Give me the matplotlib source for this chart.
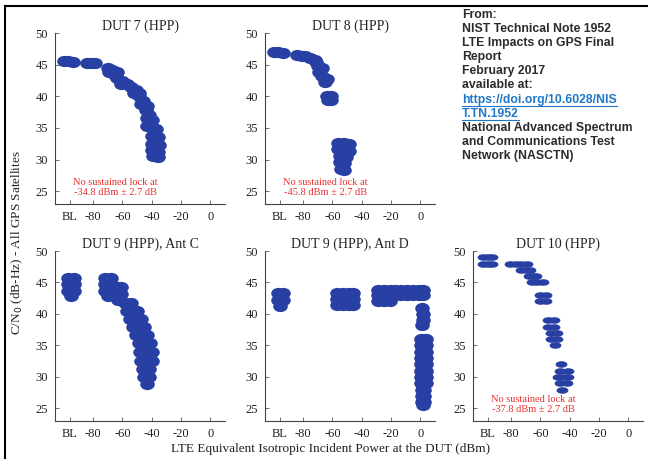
import matplotlib
matplotlib.use("Agg")
import matplotlib.pyplot as plt
from matplotlib.lines import Line2D
from matplotlib.path import Path
from matplotlib.transforms import Affine2D

W, H = 648, 459
BLUE = "#283fa3"
RED = "#e8302e"
SERIF = "Liberation Serif"

# power levels: "BL" (baseline, no LTE) is plotted at -96
BL = -96
x_ticks = [BL, -80, -60, -40, -20, 0]
x_ticklabels = ["BL", "-80", "-60", "-40", "-20", "0"]
y_ticks = [25, 30, 35, 40, 45, 50]

# DUT 7 (HPP)
dut7_x = [-100, -97, -93.5, -84, -81.5, -79, -70, -67, -64, -69, -66,
          -64, -60, -57, -61, -54, -51, -49, -52, -49, -46, -43, -47,
          -44, -42, -40, -43, -43, -40, -37, -40, -36, -40, -35, -40,
          -36, -39, -36]
dut7_y = [45.6, 45.6, 45.5, 45.3, 45.2, 45.2, 44.4, 44.1, 43.8, 43.8, 43.5,
          42.9, 42.5, 42.0, 42.0, 41.5, 41.0, 40.5, 40.6, 40.0, 39.3, 38.5, 38.8,
          37.8, 37.0, 36.2, 36.6, 35.3, 35.0, 34.8, 33.8, 33.5, 32.5, 32.3, 31.5,
          31.2, 30.6, 30.4]

# DUT 8 (HPP)
dut8_x = [-100, -97, -94, -84, -81, -79, -75, -72, -71, -70, -67, -69,
          -67, -64, -65, -64, -61, -63, -61,
          -56, -52, -49, -56, -52, -49, -55, -51, -55, -52, -54, -52]
dut8_y = [47.0, 47.0, 46.9, 46.6, 46.4, 46.3, 46.0, 45.7, 45.4, 44.8, 44.4, 43.9,
          43.2, 42.8, 42.3, 40.1, 40.0, 39.4, 39.4,
          32.6, 32.7, 32.4, 31.7, 31.6, 31.3, 30.6, 30.4, 29.6, 29.4, 28.5, 28.4]

# DUT 9 (HPP), Ant C
dut9c_x = [-97, -93, -97, -93, -97, -93, -95,
           -72, -68, -72, -68, -72, -68, -70,
           -66, -61, -66, -61, -63,
           -58, -54, -57, -53, -50, -55, -51, -47, -53, -49, -45,
           -51, -47, -43, -49, -45, -41, -48, -44, -40, -47, -43, -40,
           -46, -42, -45, -42, -43]
dut9c_y = [45.7, 45.7, 44.7, 44.7, 43.7, 43.7, 42.8,
           45.7, 45.7, 44.7, 44.7, 43.7, 43.6, 42.8,
           44.4, 44.3, 43.3, 43.2, 42.2,
           41.8, 41.8, 40.5, 40.5, 40.5, 39.2, 39.2, 39.2, 38.0, 38.0, 38.0,
           36.7, 36.7, 36.7, 35.4, 35.4, 35.4, 34.0, 34.0, 34.0, 32.6, 32.6, 32.6,
           31.2, 31.2, 30.0, 30.0, 28.8]

# DUT 9 (HPP), Ant D
dut9d_x = [-97, -94, -97, -94, -96,
           -57, -53, -49, -46, -57, -53, -49, -46, -57, -53, -49, -46,
           -29, -25, -21, -17, -13, -9, -5, -1, 1.5,
           -29, -25, -21, -17, -13, -9, -5, -1, 1.5,
           -29, -25, -21,
           1, 1.5, 1.5, 1,
           0.5, 4, 0.5, 4, 0.5, 4, 0.5, 4, 0.5, 4, 0.5, 4, 0.5, 4, 0.5, 4,
           1, 2.5, 1, 2.5, 1, 2.5, 2]
dut9d_y = [43.3, 43.3, 42.2, 42.2, 41.3,
           43.3, 43.3, 43.3, 43.3, 42.3, 42.3, 42.3, 42.3, 41.4, 41.4, 41.4, 41.4,
           43.8, 43.8, 43.8, 43.8, 43.8, 43.8, 43.8, 43.8, 43.8,
           43.0, 43.0, 43.0, 43.0, 43.0, 43.0, 43.0, 43.0, 43.0,
           42.0, 42.0, 42.0,
           41.0, 40.0, 39.0, 38.3,
           36, 36, 35, 35, 34, 34, 33, 33, 32, 32, 31, 31, 30, 30, 29, 29,
           28, 28, 27, 27, 26, 26, 25.5]

# DUT 10 (HPP), C/N0 reported in whole dB-Hz
dut10_x = [-99, -96, -93, -99, -96, -93,
           -81, -77, -73, -69, -73, -70, -67, -68, -65, -63, -65.5, -62, -58.5,
           -60, -56.5, -60, -56, -55, -51, -55, -50.5, -53, -48.5, -53, -48.5, -50,
           -46, -46.5, -41.5, -48, -44.5, -41, -46.5, -42, -45]
dut10_y = [49, 49, 49, 48, 48, 48,
           48, 48, 48, 48, 47, 47, 47, 46, 46, 46, 45, 45, 45,
           43, 43, 42, 42, 39, 39, 38, 38, 37, 37, 36, 36, 35,
           32, 31, 31, 30, 30, 30, 29, 29, 28]


def ellipse_marker(aspect):
    # unit circle stretched sideways, used as a marker path
    return Path.unit_circle().transformed(Affine2D().scale(aspect, 1.0))


wide = ellipse_marker(1.3)
flat = ellipse_marker(1.8)

panels = [
    ("DUT 7 (HPP)", dut7_x, dut7_y, wide, 10.5, "-34.8 dBm \u00b1 2.7 dB"),
    ("DUT 8 (HPP)", dut8_x, dut8_y, wide, 10.5, "-45.8 dBm \u00b1 2.7 dB"),
    ("DUT 9 (HPP), Ant C", dut9c_x, dut9c_y, wide, 10.5, None),
    ("DUT 9 (HPP), Ant D", dut9d_x, dut9d_y, wide, 10.5, None),
    ("DUT 10 (HPP)", dut10_x, dut10_y, flat, 8.5, "-37.8 dBm \u00b1 2.7 dB"),
]

# axes boxes in pixels: (left, right, top, bottom)
boxes = [(55, 225, 33, 204), (265, 435, 33, 204),
         (55, 225, 251, 421), (265, 435, 251, 421), (473, 643, 251, 421)]

fig = plt.figure(figsize=(W / 100, H / 100), dpi=100)
fig.patch.set_facecolor("white")

for (title, xs, ys, mk, ms, lock), (l, r, t, b) in zip(panels, boxes):
    ax = fig.add_axes([l / W, 1 - b / H, (r - l) / W, (b - t) / H])
    ax.plot(xs, ys, linestyle="none", marker=mk, color=BLUE, ms=ms, mec="none")
    ax.set_xlim(-106, 10)
    ax.set_ylim(23, 50)
    ax.set_xticks(x_ticks)
    ax.set_xticklabels(x_ticklabels)
    ax.set_yticks(y_ticks)
    ax.tick_params(direction="in", length=3, width=0.6, color="#555555",
                   labelsize=9, pad=5)
    for lab in ax.get_xticklabels() + ax.get_yticklabels():
        lab.set_fontfamily(SERIF)
        lab.set_color("#222222")
    for side in ("top", "right"):
        ax.spines[side].set_visible(False)
    for side in ("left", "bottom"):
        ax.spines[side].set_color("#444444")
        ax.spines[side].set_linewidth(0.8)
    ax.set_title(title, fontsize=10, family=SERIF, color="#222222", pad=2)
    if lock:
        ax.text(-65, 25.6, "No sustained lock at\n" + lock, color=RED,
                fontsize=7.5, family=SERIF, ha="center", va="center",
                linespacing=1.05)

fig.text(331 / W, 1 - 449 / H,
         "LTE Equivalent Isotropic Incident Power at the DUT (dBm)",
         ha="center", va="center", fontsize=9.5, family=SERIF, color="#222222")
fig.text(17 / W, 1 - 243 / H, "C/N$_0$ (dB-Hz) - All GPS Satellites",
         rotation=90, ha="center", va="center", fontsize=9.5, family=SERIF,
         color="#222222")

# source note in the top-right corner
note = ["From:", "NIST Technical Note 1952", "LTE Impacts on GPS Final",
        "Report", "February 2017", "available at:",
        "https://doi.org/10.6028/NIS", "T.TN.1952",
        "National Advanced Spectrum", "and Communications Test",
        "Network (NASCTN)"]
links = {6, 7}
line_y = 15
link_texts = []
for i, line in enumerate(note):
    col = "#1f78c8" if i in links else "#2b2b2b"
    t = fig.text(462 / W, 1 - (line_y + i * 14.1) / H, line, ha="left",
                 va="center", fontsize=8.8, family="Liberation Sans",
                 weight="bold", color=col)
    if i in links:
        link_texts.append(t)

fig.canvas.draw()
for t in link_texts:
    bb = t.get_window_extent()
    fig.add_artist(Line2D([bb.x0 / W, bb.x1 / W],
                          [(bb.y0 - 0.5) / H, (bb.y0 - 0.5) / H],
                          color="#1f78c8", lw=0.8, transform=fig.transFigure))

# frame along the top and left edges
fig.add_artist(Line2D([5 / W, 1], [1 - 6 / H, 1 - 6 / H], color="black",
                      lw=1.5, transform=fig.transFigure))
fig.add_artist(Line2D([5 / W, 5 / W], [0, 1 - 6 / H], color="black",
                      lw=1.5, transform=fig.transFigure))

fig.savefig("out.png", dpi=100)
